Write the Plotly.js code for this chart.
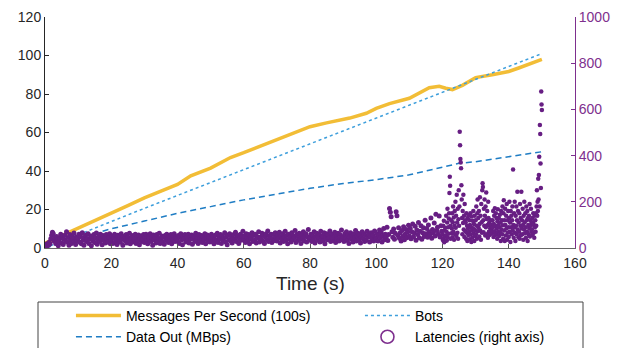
<!DOCTYPE html>
<html>
<head>
<meta charset="utf-8">
<script src="https://cdn.plot.ly/plotly-3.0.1.min.js"></script>
<style>html,body{margin:0;padding:0;background:#fff;}#chart{width:625px;height:348px;}</style>
</head>
<body>
<div id="chart"></div>
<script>
// Messages per second (100s) – left axis
var msgTime = [0,5,10,15,20,25,30,32,35,40,44,50,56,60,68,75,80,85,92,97,100,104,110,116,119,121,123,126,130,135,140,143,147,150];
var msgValues = [2.5,6.5,10.5,14.5,18.5,22,26,27.5,29.5,33,37.5,41.5,47,49.5,55,59.5,63,65,67.5,70,72.5,75,77.8,83.3,84,83,82.3,84.5,88.5,90,91.7,93.5,96,98];

// Bots – left axis
var botTime = [0,10,20,30,40,50,60,70,80,90,100,110,120,130,140,150];
var botValues = [0,7,13.8,20.6,27.3,34,40.8,47.6,54.4,61,67.8,74.5,81.3,88,94.5,101];

// Data out (MBps) – left axis
var outTime = [0,10,20,30,40,50,60,70,80,90,100,110,120,125,130,140,150];
var outValues = [0,5,10,14,18,21.5,25,28,31,33.5,35.5,38,42,44,44.8,47.4,50];

// Latencies (ms) – right axis
// part A: 0 s – 119.75 s, one sample every 0.25 s
var latAStart = 0;
var latAStep = 0.25;
var latAValues = [
 8,15,5,20,12,25,18,40,55,68,62,30,45,20,50,35,10,28,42,60,22,48,15,38,55,30,70,25,45,12,58,35,20,50,40,65,28,15,48,33,
 42,60,25,50,18,66,35,12,45,55,28,40,62,20,38,52,10,47,30,58,24,44,65,16,36,50,28,60,40,14,54,32,46,22,58,38,26,48,62,18,
 35,52,20,45,60,28,40,15,55,32,48,25,62,38,12,50,42,30,58,22,46,34,64,18,40,54,26,48,36,60,20,44,30,56,14,42,52,28,38,58,
 24,46,60,32,18,50,40,62,28,44,12,56,36,48,22,58,30,42,64,20,38,52,26,46,16,54,34,60,40,24,50,32,58,18,44,36,62,28,48,40,
 30,54,20,46,62,36,14,50,40,58,26,44,32,60,22,48,38,56,16,42,52,28,64,34,46,20,58,40,30,54,24,50,36,62,18,44,56,32,48,26,
 42,60,28,50,18,38,56,32,64,24,46,40,58,20,52,34,44,66,26,48,14,56,36,62,30,50,22,42,58,38,68,28,46,54,20,40,60,34,50,72,
 36,52,24,62,44,30,58,18,48,40,66,28,54,34,60,22,50,42,70,26,46,38,64,30,56,20,48,62,36,74,28,52,44,60,24,40,58,32,66,46,
 30,56,42,68,22,50,38,62,28,46,72,34,54,18,60,40,48,26,66,36,52,44,76,24,58,32,46,64,38,20,56,42,70,30,50,62,26,48,80,36,
 44,60,28,54,38,70,22,50,64,34,46,58,26,72,40,52,30,66,18,48,62,36,56,42,74,28,50,60,32,46,68,24,54,40,64,30,58,44,78,36,
 50,28,62,42,70,32,56,20,48,66,38,54,26,60,44,76,30,52,64,36,58,22,46,70,40,62,28,54,34,72,48,60,26,50,66,38,56,30,74,44,
 40,62,30,56,78,44,68,26,52,84,36,60,48,90,32,58,171,155,135,70,46,82,38,64,157,140,54,88,42,66,30,76,50,92,36,60,80,44,70,98,
 52,86,40,70,104,48,64,94,34,78,58,110,44,72,96,38,66,88,50,120,62,84,46,100,70,56,130,42,80,66,108,52,146,76,90,60,138,48,96,72
];
// part B: 120 s – 150 s, one sample every 0.1 s
var latBStart = 120;
var latBStep = 0.1;
var latBValues = [
 60,35,96,42,118,25,76,50,88,30,
 54,140,70,32,110,170,45,90,62,128,
 150,238,308,270,96,40,120,64,84,150,
 46,112,180,70,132,36,96,160,58,200,
 88,140,52,230,110,66,170,40,125,250,
 96,180,503,445,385,370,345,272,210,130,
 60,160,108,230,80,140,48,190,120,72,
 110,40,150,66,96,30,130,84,56,142,
 70,120,38,100,150,58,90,26,136,76,
 44,118,86,160,62,104,30,140,78,52,
 120,60,180,96,40,150,210,72,130,88,
 160,50,104,220,76,140,36,190,112,66,
 250,280,264,120,68,170,96,210,140,54,
 180,90,240,126,60,160,100,44,200,130,
 70,110,56,96,84,120,62,100,78,90,
 66,120,90,160,48,104,140,72,172,56,
 96,150,60,130,84,40,116,168,70,100,
 130,52,90,144,66,110,30,160,80,120,
 60,180,98,40,150,207,76,120,30,170,
 100,54,140,84,190,36,120,66,160,90,
 48,130,200,70,110,26,160,90,140,60,
 120,180,76,340,100,44,150,90,200,66,
 30,140,96,180,60,120,243,80,160,46,
 110,70,150,40,190,96,130,56,243,84,
 120,60,170,100,36,140,80,200,110,64,
 150,90,44,180,120,70,160,30,130,100,
 60,140,84,190,50,120,96,170,70,110,
 80,130,56,110,150,66,100,44,140,90,
 120,70,150,96,180,250,140,200,160,300,
 210,316,395,180,532,493,366,260,678,621,
 597
];

var traceNames = ['Messages Per Second (100s)', 'Bots', 'Data Out (MBps)', 'Latencies (right axis)'];
var xTitle = 'Time (s)';
var xTicks = [0,20,40,60,80,100,120,140,160];
var yTicks = [0,20,40,60,80,100,120];
var y2Ticks = [0,200,400,600,800,1000];

var purple = '#7E2F8E';
var dotColor = '#671E83';
var font = 'Liberation Sans, Arial, Helvetica, sans-serif';

var traces = [
  {x: msgTime, y: msgValues, name: traceNames[0], mode: 'lines', yaxis: 'y',
   line: {color: '#F2BD36', width: 3.5}},
  {x: botTime, y: botValues, name: traceNames[1], mode: 'lines', yaxis: 'y',
   line: {color: '#3E9FDC', width: 1.5, dash: 'dot'}},
  {x: outTime, y: outValues, name: traceNames[2], mode: 'lines', yaxis: 'y',
   line: {color: '#1F7DC4', width: 1.5, dash: '6px,4px'}},
  {x0: latAStart, dx: latAStep, y: latAValues, name: traceNames[3], mode: 'markers', yaxis: 'y2',
   marker: {color: dotColor, size: 5}, showlegend: false},
  {x0: latBStart, dx: latBStep, y: latBValues, name: traceNames[3], mode: 'markers', yaxis: 'y2',
   marker: {color: dotColor, size: 4.5}, showlegend: false},
  {x: [null], y: [null], name: traceNames[3], mode: 'markers', yaxis: 'y2',
   marker: {color: purple, size: 13, symbol: 'circle-open', line: {width: 1.6}}}
];

var layout = {
  width: 625, height: 348,
  margin: {l: 45, r: 50, t: 17, b: 100, autoexpand: false},
  paper_bgcolor: '#fff', plot_bgcolor: '#fff',
  font: {family: font, size: 14, color: '#262626'},
  showlegend: true,
  xaxis: {
    range: [0, 160], tickvals: xTicks, ticktext: xTicks.map(String),
    ticks: 'inside', ticklen: 4, tickcolor: '#555', showgrid: false, zeroline: false,
    showline: true, linecolor: '#666', linewidth: 1.2, ticklabelstandoff: 2,
    tickfont: {size: 14, color: '#262626'}
  },
  yaxis: {
    range: [0, 120], tickvals: yTicks, ticktext: yTicks.map(String),
    ticks: 'inside', ticklen: 4, tickcolor: '#262626', showgrid: false, zeroline: false,
    showline: true, linecolor: '#262626', linewidth: 1,
    tickfont: {size: 14, color: '#262626'}
  },
  yaxis2: {
    range: [0, 1000], tickvals: y2Ticks, ticktext: y2Ticks.map(String),
    overlaying: 'y', side: 'right',
    ticks: 'inside', ticklen: 4, tickcolor: purple, showgrid: false, zeroline: false,
    showline: true, linecolor: purple, linewidth: 1,
    tickfont: {size: 14, color: purple}
  },
  annotations: [{
    text: xTitle, xref: 'paper', yref: 'paper', x: 0.5, y: -0.153,
    xanchor: 'center', yanchor: 'middle', showarrow: false,
    font: {size: 19, color: '#262626'}
  }],
  legend: {
    orientation: 'h', x: -0.0001, xanchor: 'left', y: -0.225, yanchor: 'top',
    entrywidth: 203, entrywidthmode: 'pixels', itemwidth: 45, indentation: 26,
    bgcolor: 'rgba(0,0,0,0)', borderwidth: 0,
    font: {size: 14, color: '#000'}, tracegroupgap: 0, itemclick: false
  },
  shapes: [{
    type: 'rect', xref: 'paper', yref: 'paper',
    x0: -0.0132, x1: 1.0151, y0: -0.6, y1: -0.2338,
    line: {color: '#444', width: 1}, fillcolor: 'rgba(0,0,0,0)'
  }]
};

Plotly.newPlot('chart', traces, layout, {displayModeBar: false, staticPlot: true});
</script>
</body>
</html>
